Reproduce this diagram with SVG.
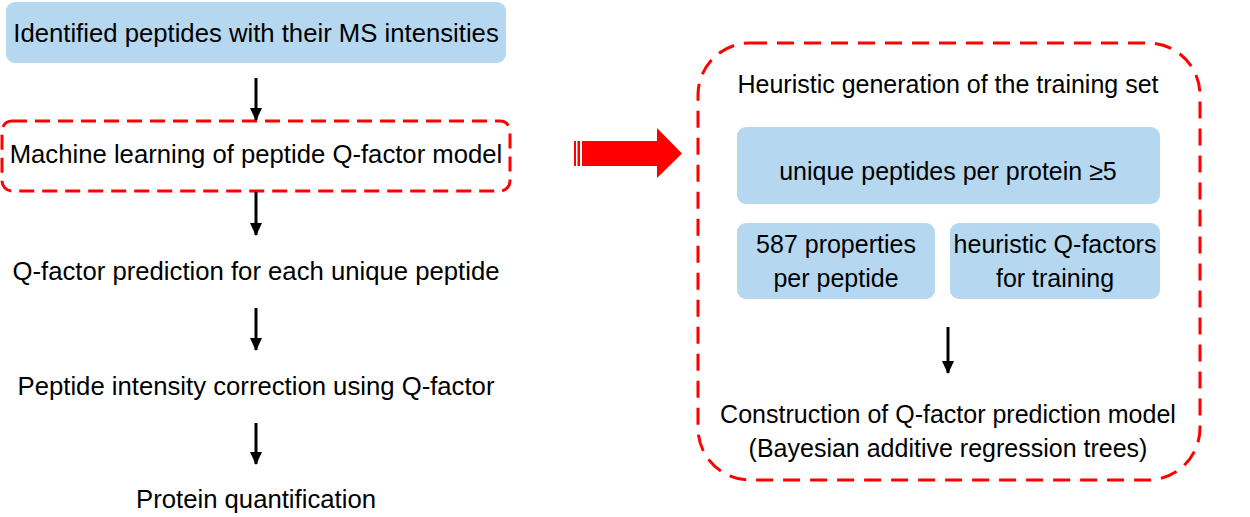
<svg xmlns="http://www.w3.org/2000/svg" width="1250" height="517" viewBox="0 0 1250 517">
<defs>
<style>
.t{font-family:"Liberation Sans",Arial,sans-serif;font-size:25px;fill:#000;text-anchor:middle}
.l{font-size:25.7px}
.box{fill:#b5d8f0}
.dash{fill:none;stroke:#ff0000;stroke-width:3}
.conn{stroke:#000;stroke-width:3;fill:none}
</style>
<marker id="ah" markerWidth="13" markerHeight="12" refX="12" refY="6" orient="auto" markerUnits="userSpaceOnUse">
<path d="M0,0 L13,6 L0,12 Z" fill="#000"/>
</marker>
</defs>
<rect width="1250" height="517" fill="#fff"/>

<g id="n1">
<rect class="box" x="6" y="2" width="500" height="61" rx="9"/>
<text class="t l" x="256" y="42">Identified peptides with their MS intensities</text>
</g>
<g id="n2">
<rect class="dash" x="2" y="121" width="508" height="70" rx="10" stroke-dasharray="15 8"/>
<text class="t l" x="256" y="163">Machine learning of peptide Q-factor model</text>
</g>
<g id="n3">
<text class="t l" x="256" y="280">Q-factor prediction for each unique peptide</text>
</g>
<g id="n4">
<text class="t l" x="256" y="395">Peptide intensity correction using Q-factor</text>
</g>
<g id="n5">
<text class="t l" x="256" y="508">Protein quantification</text>
</g>

<g id="big">
<rect class="dash" x="698" y="43" width="502" height="437" rx="52" stroke-dasharray="17 10"/>
<text class="t" x="948" y="93">Heuristic generation of the training set</text>
</g>
<g id="b1">
<rect class="box" x="737" y="127" width="423" height="77" rx="9"/>
<text class="t" x="948" y="180">unique peptides per protein ≥5</text>
</g>
<g id="b2">
<rect class="box" x="737" y="223" width="198" height="76" rx="9"/>
<text class="t" x="836" y="253">587 properties</text>
<text class="t" x="836" y="287">per peptide</text>
</g>
<g id="b3">
<rect class="box" x="950" y="223" width="210" height="76" rx="9"/>
<text class="t" x="1055" y="253">heuristic Q-factors</text>
<text class="t" x="1055" y="287">for training</text>
</g>
<g id="b4">
<text class="t" x="948" y="423">Construction of Q-factor prediction model</text>
<text class="t" x="948" y="457">(Bayesian additive regression trees)</text>
</g>

<g id="connectors">
<line class="conn" x1="256" y1="78" x2="256" y2="120" marker-end="url(#ah)"/>
<line class="conn" x1="256" y1="192" x2="256" y2="235" marker-end="url(#ah)"/>
<line class="conn" x1="256" y1="308" x2="256" y2="350" marker-end="url(#ah)"/>
<line class="conn" x1="256" y1="423" x2="256" y2="464" marker-end="url(#ah)"/>
<line class="conn" x1="948" y1="327" x2="948" y2="373" marker-end="url(#ah)"/>
<g id="redarrow" fill="#ff0000">
<rect x="574" y="141" width="2" height="25"/>
<rect x="577.5" y="141" width="2.5" height="25"/>
<path d="M582,141 L657,141 L657,128 L682,153.5 L657,178 L657,166 L582,166 Z"/>
</g>
</g>
</svg>
